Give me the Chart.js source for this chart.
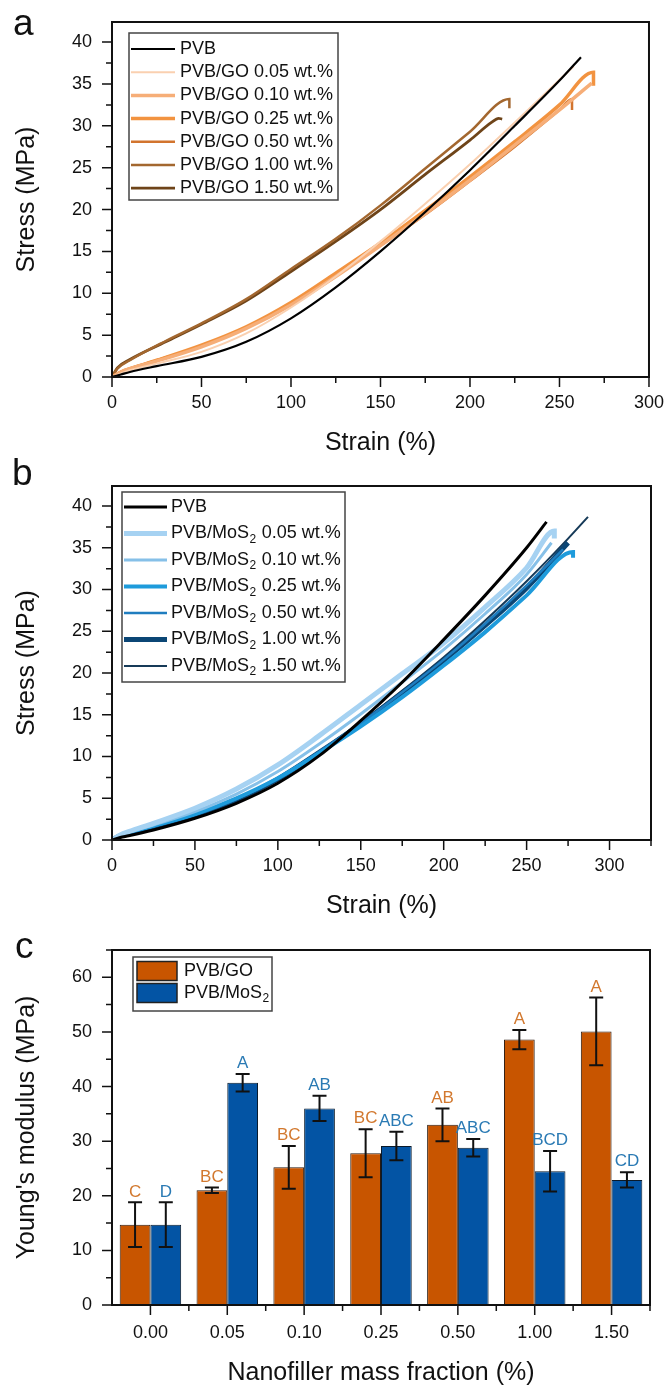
<!DOCTYPE html>
<html>
<head>
<meta charset="utf-8">
<script src="https://cdn.jsdelivr.net/npm/chart.js@4.4.0/dist/chart.umd.min.js"></script>
<style>
  body { margin: 0; background: #fff; }
  #page { position: relative; width: 669px; height: 1388px; overflow: hidden; }
  canvas { position: absolute; left: 0; }
  .panel { position: absolute; font: 37px "Liberation Sans", Arial, sans-serif; color: #111; line-height: 1; }
</style>
</head>
<body>
<div id="page">
  <canvas id="chartA" width="669" height="462" style="top:0"></canvas>
  <canvas id="chartB" width="669" height="463" style="top:462px"></canvas>
  <canvas id="chartC" width="669" height="463" style="top:925px"></canvas>
  <div class="panel" style="left:13px;top:4px">a</div>
  <div class="panel" style="left:12px;top:454px">b</div>
  <div class="panel" style="left:15px;top:927px">c</div>
</div>

<script>
  // ---- panel a: PVB/GO stress-strain curves, [strain %, stress MPa]
  var goLabels = ['PVB', 'PVB/GO 0.05 wt.%', 'PVB/GO 0.10 wt.%', 'PVB/GO 0.25 wt.%',
                  'PVB/GO 0.50 wt.%', 'PVB/GO 1.00 wt.%', 'PVB/GO 1.50 wt.%'];
  var curvePVB_a = [[0,0],[5,0.3],[10,0.6],[25,1.3],[50,2.4],[75,4.2],[100,7.0],[125,10.7],
                    [150,15.0],[175,19.7],[200,24.7],[225,30.0],[250,35.4],[262,38.2]];
  var curveGO005 = [[0,0],[10,0.8],[25,1.6],[50,3.0],[75,5.2],[100,8.3],[125,12.0],[150,16.2],
                    [175,20.7],[200,25.4],[225,30.4],[250,35.5],[258,37.1]];
  var curveGO010 = [[0,0],[5,0.6],[10,1.0],[25,1.9],[50,3.6],[75,5.8],[100,8.6],[125,12.0],[150,15.7],
                    [175,19.5],[200,23.5],[225,27.7],[250,31.9],[268,35.1]];
  var curveGO025 = [[0,0],[5,0.6],[10,1.0],[25,2.0],[50,3.8],[75,6.0],[100,8.9],[125,12.4],[150,16.0],
                    [175,19.9],[200,23.9],[225,28.1],[250,32.5],[269,36.4],[269,34.8]];
  var curveGO050 = [[0,0],[5,0.6],[10,1.0],[25,2.0],[50,3.7],[75,5.9],[100,8.7],[125,12.1],[150,15.7],
                    [175,19.4],[200,23.4],[225,27.5],[250,31.9],[257,33.2],[257,31.9]];
  var curveGO100 = [[0,0],[3,1.0],[10,2.0],[30,4.3],[50,6.4],[75,9.3],[100,12.9],[125,16.5],
                    [150,20.5],[175,24.9],[200,29.3],[222,33.2],[222,32.1]];
  var curveGO150 = [[0,0],[3,1.1],[10,2.1],[30,4.2],[50,6.3],[75,9.1],[100,12.6],[125,16.2],
                    [150,20.0],[175,24.2],[200,28.3],[212,30.4],[216,30.9],[218,30.8]];

  // ---- panel b: PVB/MoS2 stress-strain curves
  var mosLabels = ['PVB', 'PVB/MoS₂ 0.05 wt.%', 'PVB/MoS₂ 0.10 wt.%', 'PVB/MoS₂ 0.25 wt.%',
                   'PVB/MoS₂ 0.50 wt.%', 'PVB/MoS₂ 1.00 wt.%', 'PVB/MoS₂ 1.50 wt.%'];
  var curvePVB_b = [[0,0],[5,0.3],[10,0.5],[25,1.2],[50,2.6],[75,4.4],[100,6.8],[125,10.1],
                    [150,14.3],[175,18.9],[200,24.0],[225,29.3],[250,35.0],[262,38.1]];
  var curveMo005 = [[0,0],[5,0.6],[10,1.0],[25,2.0],[50,3.8],[75,6.1],[100,9.0],[125,12.5],[150,16.2],
                    [175,19.9],[200,23.6],[225,27.9],[250,32.6],[266.7,37.0],[266.7,36.1]];
  var curveMo010 = [[0,0],[5,0.5],[10,0.9],[25,1.8],[50,3.4],[75,5.5],[100,8.2],[125,11.5],[150,15.1],
                    [175,18.9],[200,22.8],[225,27.1],[250,31.8],[265,35.6]];
  var curveMo025 = [[0,0],[5,0.5],[10,0.9],[25,1.7],[50,3.1],[75,5.0],[100,7.4],[125,10.4],[150,13.6],
                    [175,17.1],[200,20.9],[225,24.9],[250,29.3],[278,34.5],[278,33.8]];
  var curveMo050 = [[0,0],[5,0.5],[10,0.8],[25,1.6],[50,3.0],[75,4.9],[100,7.4],[125,10.6],[150,14.0],
                    [175,17.7],[200,21.6],[225,25.9],[250,30.5],[272,34.8]];
  var curveMo100 = [[0,0],[5,0.5],[10,0.8],[25,1.5],[50,2.9],[75,4.8],[100,7.3],[125,10.5],[150,13.9],
                    [175,17.6],[200,21.5],[225,25.7],[250,30.2],[275,35.6]];
  var curveMo150 = [[0,0],[5,0.5],[10,0.8],[25,1.5],[50,2.9],[75,4.8],[100,7.3],[125,10.6],[150,14.1],
                    [175,17.9],[200,21.9],[225,26.3],[250,31.0],[275,36.1],[287,38.7]];

  // ---- panel c: Young's modulus (MPa)
  var fractions = ['0.00', '0.05', '0.10', '0.25', '0.50', '1.00', '1.50'];
  var goModulus  = [14.7, 21.0, 25.2, 27.8, 33.0, 48.6, 50.1];
  var goError    = [4.1, 0.5, 3.9, 4.4, 3.0, 1.75, 6.2];
  var goLetters  = ['C', 'BC', 'BC', 'BC', 'AB', 'A', 'A'];
  var mosModulus = [14.7, 40.7, 36.0, 29.1, 28.8, 24.5, 22.9];
  var mosError   = [4.1, 1.6, 2.3, 2.6, 1.6, 3.7, 1.4];
  var mosLetters = ['D', 'A', 'AB', 'ABC', 'ABC', 'BCD', 'CD'];

  var FONT = '"Liberation Sans", Arial, sans-serif';
  Chart.defaults.font.family = FONT;
  Chart.defaults.color = '#111';

  // text with "₂" drawn as a real subscript
  function drawSubText(ctx, text, x, y, size) {
    var parts = text.split('₂');
    ctx.textBaseline = 'middle';
    ctx.textAlign = 'left';
    ctx.fillStyle = '#111';
    parts.forEach(function(p, i) {
      ctx.font = size + 'px ' + FONT;
      ctx.fillText(p, x, y);
      x += ctx.measureText(p).width;
      if (i < parts.length - 1) {
        ctx.font = Math.round(size * 0.65) + 'px ' + FONT;
        ctx.fillText('2', x + 0.5, y + size * 0.32);
        x += ctx.measureText('2').width + 1;
      }
    });
  }

  // closed frame plus outward major/minor tick marks
  var frameTicks = {
    id: 'frameTicks',
    afterDatasetsDraw: function(chart, args, o) {
      var ctx = chart.ctx, a = chart.chartArea;
      var xs = chart.scales.x, ys = chart.scales.y;
      ctx.save();
      ctx.strokeStyle = '#111';
      ctx.lineWidth = 1.5;
      ctx.beginPath();
      for (var v = ys.min; v <= ys.max + 1e-9; v += o.yMinor) {
        var p = ys.getPixelForValue(v);
        var major = Math.abs(v / o.yMajor - Math.round(v / o.yMajor)) < 1e-6;
        var len = major ? 10 : 6;
        ctx.moveTo(a.left - len, p);
        ctx.lineTo(a.left, p);
      }
      if (xs.type === 'category') {
        for (var i = 0; i <= xs.max + 0.5; i += 0.5) {
          var px = xs.getPixelForValue(i);
          ctx.moveTo(px, a.bottom);
          ctx.lineTo(px, a.bottom + (i % 1 === 0 ? 10 : 6));
        }
      } else {
        for (var w = xs.min; w <= xs.max + 1e-9; w += o.xMinor) {
          var q = xs.getPixelForValue(w);
          var maj = Math.abs(w / o.xMajor - Math.round(w / o.xMajor)) < 1e-6;
          ctx.moveTo(q, a.bottom);
          ctx.lineTo(q, a.bottom + (maj ? 10 : 6));
        }
      }
      ctx.stroke();
      ctx.lineWidth = 2;
      ctx.strokeRect(a.left, a.top, a.right - a.left, a.bottom - a.top);
      ctx.restore();
    }
  };

  // legend box drawn inside the plot area
  var boxLegend = {
    id: 'boxLegend',
    afterDraw: function(chart, args, o) {
      var ctx = chart.ctx, a = chart.chartArea;
      var x0 = a.left + o.dx, y0 = a.top + o.dy;
      ctx.save();
      ctx.fillStyle = '#fff';
      ctx.fillRect(x0, y0, o.w, o.h);
      ctx.strokeStyle = '#444';
      ctx.lineWidth = 1.5;
      ctx.strokeRect(x0, y0, o.w, o.h);
      chart.data.datasets.forEach(function(ds, i) {
        var cy = y0 + o.first + i * o.gap;
        if (o.swatch) {
          ctx.fillStyle = ds.backgroundColor;
          ctx.fillRect(x0 + 4, cy - 9.5, 40, 19);
          ctx.strokeStyle = '#222';
          ctx.lineWidth = 1.5;
          ctx.strokeRect(x0 + 4, cy - 9.5, 40, 19);
        } else {
          ctx.strokeStyle = ds.borderColor;
          ctx.lineWidth = ds.borderWidth;
          ctx.beginPath();
          ctx.moveTo(x0 + 2, cy);
          ctx.lineTo(x0 + o.lineEnd, cy);
          ctx.stroke();
        }
        drawSubText(ctx, ds.label, x0 + o.textX, cy, o.size);
      });
      ctx.restore();
    }
  };

  // error bars and significance letters for the bar chart
  var errorLetters = {
    id: 'errorLetters',
    afterDatasetsDraw: function(chart) {
      var ctx = chart.ctx, ys = chart.scales.y;
      ctx.save();
      chart.data.datasets.forEach(function(ds, di) {
        chart.getDatasetMeta(di).data.forEach(function(bar, i) {
          var v = ds.data[i], e = ds.errors[i];
          var yt = ys.getPixelForValue(v + e), yb = ys.getPixelForValue(v - e);
          ctx.strokeStyle = '#111';
          ctx.lineWidth = 2;
          ctx.beginPath();
          ctx.moveTo(bar.x, yt); ctx.lineTo(bar.x, yb);
          ctx.moveTo(bar.x - 7, yt); ctx.lineTo(bar.x + 7, yt);
          ctx.moveTo(bar.x - 7, yb); ctx.lineTo(bar.x + 7, yb);
          ctx.stroke();
          ctx.fillStyle = ds.letterColor;
          ctx.font = '17px ' + FONT;
          ctx.textAlign = 'center';
          ctx.textBaseline = 'bottom';
          ctx.fillText(ds.letters[i], bar.x, yt - 2);
        });
      });
      ctx.restore();
    }
  };

  function toPoints(arr) {
    return arr.map(function(p) { return {x: p[0], y: p[1]}; });
  }

  function curveSet(labels, curves, colors, widths) {
    return curves.map(function(c, i) {
      return {
        label: labels[i],
        data: toPoints(c),
        showLine: true,
        borderColor: colors[i],
        borderWidth: widths[i],
        pointRadius: 0,
        cubicInterpolationMode: 'monotone',
        fill: false
      };
    });
  }

  function axes(xMax, yMax, xStep, yStep, xTitle, yTitle, xPad, xTitlePad, xHeight) {
    return {
      x: {
        type: 'linear', min: 0, max: xMax,
        afterFit: function(s) { s.height = xHeight; },
        ticks: { stepSize: xStep, includeBounds: false, padding: xPad, maxRotation: 0, font: { size: 18 } },
        grid: { drawOnChartArea: false, tickLength: 10, color: 'rgba(0,0,0,0)' },
        border: { display: false },
        title: { display: true, text: xTitle, font: { size: 25 }, padding: { top: 0, bottom: xTitlePad } }
      },
      y: {
        min: 0, max: yMax,
        afterFit: function(s) { s.width = 112; },
        ticks: { stepSize: yStep, includeBounds: false, padding: 10, font: { size: 18 } },
        grid: { drawOnChartArea: false, tickLength: 10, color: 'rgba(0,0,0,0)' },
        border: { display: false },
        title: { display: true, text: yTitle, font: { size: 25 }, padding: { top: 12, bottom: 0 } }
      }
    };
  }

  // panel a
  new Chart(document.getElementById('chartA'), {
    type: 'scatter',
    data: {
      datasets: curveSet(goLabels,
        [curvePVB_a, curveGO005, curveGO010, curveGO025, curveGO050, curveGO100, curveGO150],
        ['#000000', '#FAD0B0', '#F6AE78', '#F29340', '#D2742E', '#A3672F', '#6E4419'],
        [2.2, 2, 3.5, 3.5, 2.5, 2.5, 2.8])
    },
    options: {
      responsive: false, animation: false,
      layout: { padding: { top: 22, right: 18, bottom: 0, left: 0 } },
      scales: axes(300, 42.4, 50, 5, 'Strain (%)', 'Stress (MPa)', 5, 4, 85),
      plugins: {
        legend: { display: false }, tooltip: { enabled: false },
        frameTicks: { xMajor: 50, xMinor: 25, yMajor: 5, yMinor: 2.5 },
        boxLegend: { dx: 17, dy: 11, w: 209, h: 167, first: 16, gap: 23.2, lineEnd: 46, textX: 51, size: 18 }
      }
    },
    plugins: [frameTicks, boxLegend]
  });

  // panel b
  new Chart(document.getElementById('chartB'), {
    type: 'scatter',
    data: {
      datasets: curveSet(mosLabels,
        [curvePVB_b, curveMo005, curveMo010, curveMo025, curveMo050, curveMo100, curveMo150],
        ['#000000', '#A6D2F2', '#86C0E8', '#1E9BDB', '#1F7DBF', '#0B4675', '#163A58'],
        [3, 5, 3, 4, 2.5, 5, 2])
    },
    options: {
      responsive: false, animation: false,
      layout: { padding: { top: 24, right: 18, bottom: 0, left: 0 } },
      scales: axes(325, 42.4, 50, 5, 'Strain (%)', 'Stress (MPa)', 5, 4, 85),
      plugins: {
        legend: { display: false }, tooltip: { enabled: false },
        frameTicks: { xMajor: 50, xMinor: 25, yMajor: 5, yMinor: 2.5 },
        boxLegend: { dx: 10, dy: 6, w: 223, h: 190, first: 15, gap: 26.5, lineEnd: 45, textX: 49, size: 18 }
      }
    },
    plugins: [frameTicks, boxLegend]
  });

  // panel c
  var scalesC = axes(1, 65, 1, 10, 'Nanofiller mass fraction (%)', "Young's modulus (MPa)", 7, 0, 83);
  scalesC.x.type = 'category';
  delete scalesC.x.min;
  delete scalesC.x.max;
  scalesC.x.ticks = { padding: 7, maxRotation: 0, autoSkip: false, font: { size: 18 } };

  new Chart(document.getElementById('chartC'), {
    type: 'bar',
    data: {
      labels: fractions,
      datasets: [
        { label: 'PVB/GO', data: goModulus, errors: goError, letters: goLetters, letterColor: '#D2782E',
          backgroundColor: '#C85500', borderColor: '#2a1a10', borderWidth: 1,
          categoryPercentage: 0.8, barPercentage: 1.0 },
        { label: 'PVB/MoS₂', data: mosModulus, errors: mosError, letters: mosLetters, letterColor: '#2A7AB4',
          backgroundColor: '#0354A4', borderColor: '#0a1a2a', borderWidth: 1,
          categoryPercentage: 0.8, barPercentage: 1.0 }
      ]
    },
    options: {
      responsive: false, animation: false,
      layout: { padding: { top: 25, right: 19, bottom: 0, left: 0 } },
      scales: scalesC,
      plugins: {
        legend: { display: false }, tooltip: { enabled: false },
        frameTicks: { yMajor: 10, yMinor: 5 },
        boxLegend: { dx: 21, dy: 7, w: 139, h: 54, first: 14, gap: 22, textX: 51, size: 18, swatch: true }
      }
    },
    plugins: [errorLetters, frameTicks, boxLegend]
  });
</script>
</body>
</html>
